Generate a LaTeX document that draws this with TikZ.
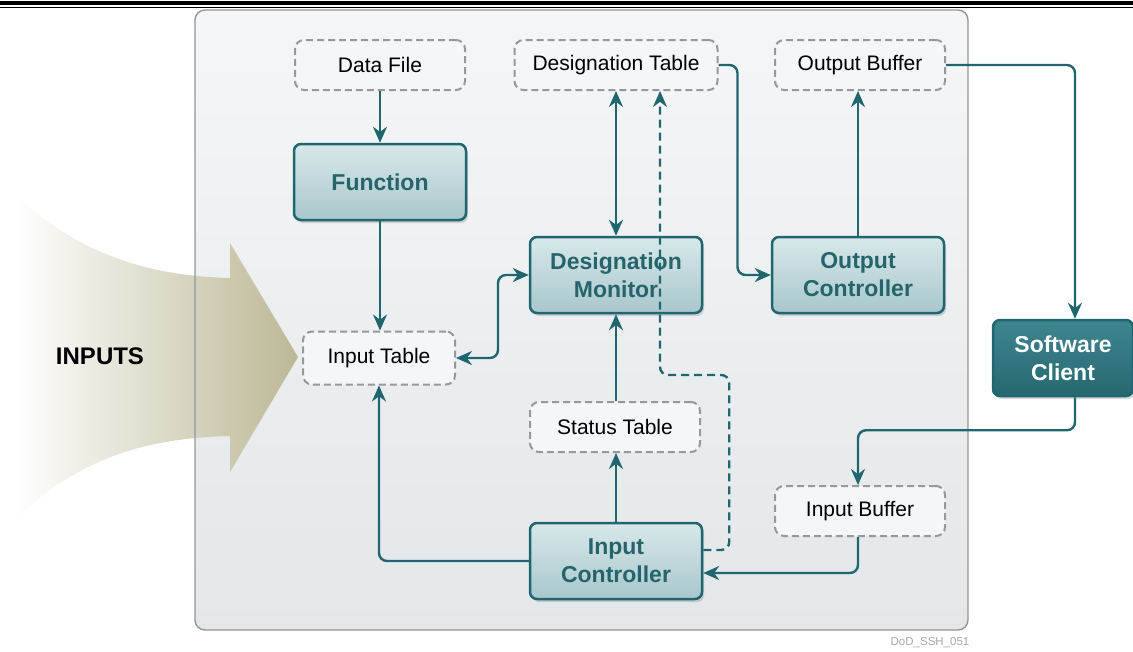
\documentclass[tikz,border=0pt]{standalone}
\usepackage{fontspec}
\setmainfont{Liberation Sans}
\usetikzlibrary{arrows.meta, positioning, shadows}
\definecolor{DSteal}{RGB}{32,102,110}
\definecolor{DStealtext}{RGB}{38,100,108}
\definecolor{DSboxtop}{RGB}{216,232,234}
\definecolor{DSboxbot}{RGB}{168,199,204}
\definecolor{DSclienttop}{RGB}{62,134,142}
\definecolor{DSclientbot}{RGB}{38,104,112}
\definecolor{DSgrey}{RGB}{150,152,155}
\definecolor{DSstore}{RGB}{244,246,247}
\definecolor{DSpaneltop}{RGB}{245,246,247}
\definecolor{DSpanelbot}{RGB}{227,231,234}
\definecolor{DSborder}{RGB}{145,150,155}
\definecolor{DSkhaki}{RGB}{188,184,150}

\begin{document}
\begin{tikzpicture}[x=1pt, y=-1pt, >={Stealth[length=16pt,width=14pt]},
    proc/.style={draw=DSteal, line width=2.5pt, rounded corners=7pt,
      top color=DSboxtop, bottom color=DSboxbot, text=DStealtext,
      font=\fontsize{23}{28}\selectfont\bfseries, align=center,
      minimum width=172pt, minimum height=76pt,
      drop shadow={opacity=0.3, shadow xshift=2pt, shadow yshift=-3pt}},
    store/.style={draw=DSgrey, line width=2pt, dash pattern=on 7pt off 4pt,
      rounded corners=9pt, fill=DSstore, font=\fontsize{21}{25}\selectfont,
      minimum width=170pt, minimum height=50pt},
    link/.style={draw=DSteal, line width=2.4pt, rounded corners=8pt}]
      \useasboundingbox (0,0) rectangle (1133,651);
      % Rules at the top
      \fill[black] (0,1) rectangle (1133,4.5);
      \fill[black] (0,6.5) rectangle (1133,8);
      % Panel
      \shade[top color=DSpaneltop, bottom color=DSpanelbot, rounded corners=10pt]
        (195,10) rectangle (968,630);
      % Inputs arrow
      \shade[left color=white, middle color=DSkhaki!92, right color=DSkhaki]
        (15,195) .. controls (80,255) and (150,276) .. (230,278) -- (230,243)
        -- (298,357) -- (230,472) -- (230,436)
        .. controls (150,438) and (80,456) .. (15,520) -- cycle;
      \draw[DSborder, line width=1.4pt, rounded corners=10pt] (195,10) rectangle (968,630);
      \node[font=\fontsize{24}{28}\selectfont\bfseries] (inputs) at (100,356) {INPUTS};
      % Tables and buffers
      \node[store] (datafile) at (380,65) {Data File};
      \node[store, minimum width=203pt] (desigtable) at (616,65) {Designation Table};
      \node[store] (outbuf) at (860,65) {Output Buffer};
      \node[store, minimum width=152pt, minimum height=53pt] (inputtable) at (379,358) {Input Table};
      \node[store] (statustable) at (615,427) {Status Table};
      \node[store] (inbuf) at (860,511) {Input Buffer};
      % Processes
      \node[proc] (function) at (380,182) {Function};
      \node[proc] (desigmon) at (616,275) {Designation\\Monitor};
      \node[proc] (outctrl) at (858,275) {Output\\Controller};
      \node[proc] (inctrl) at (616,561) {Input\\Controller};
      \node[proc, minimum width=140pt, top color=DSclienttop, bottom color=DSclientbot,
        text=white] (client) at (1063,358) {Software\\Client};
      % Connectors
      \draw[link, ->] (datafile) -- (function);
      \draw[link, ->] (function.south) -- (function.south |- inputtable.north);
      \draw[link, <->] (inputtable.east) -- ++(42,0) |- (desigmon.west);
      \draw[link, <->] (desigmon.north) -- (desigmon.north |- desigtable.south);
      \draw[link, ->, dash pattern=on 8pt off 5pt]
        ([yshift=11pt]inctrl.east) -| ++(26,-175) -| ([xshift=44pt]desigtable.south);
      \draw[link, ->] (desigtable.east) -- ++(19,0) |- (outctrl.west);
      \draw[link, ->] (outctrl.north) -- (outctrl.north |- outbuf.south);
      \draw[link, ->] (outbuf.east) -| ([xshift=12pt]client.north);
      \draw[link, ->] ([xshift=12pt]client.south) -- ++(0,33) -| ([xshift=-2pt]inbuf.north);
      \draw[link, ->] ([xshift=-2pt]inbuf.south) |- ([yshift=-12pt]inctrl.east);
      \draw[link, ->] (inctrl.west) -| (inputtable.south);
      \draw[link, ->] (inctrl.north) -- (inctrl.north |- statustable.south);
      \draw[link, ->] (statustable.north -| desigmon.south) -- (desigmon.south);
      % Figure tag
      \node[text=gray!70, font=\fontsize{11.5}{13}\selectfont] (tag) at (930,643) {DoD\_SSH\_051};
    \end{tikzpicture}
\end{document}
